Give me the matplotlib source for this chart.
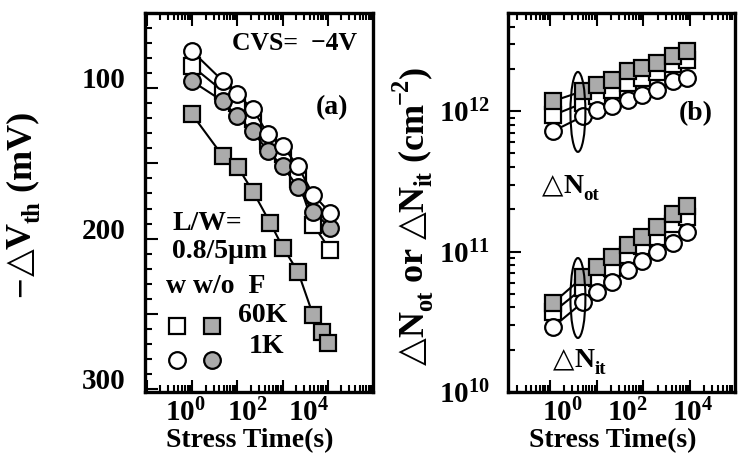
import numpy as np
import matplotlib
matplotlib.use('Agg')
import matplotlib.pyplot as plt
from matplotlib.patches import Ellipse
from matplotlib.text import Annotation
from matplotlib.ticker import (MultipleLocator, LogLocator, NullFormatter, FuncFormatter,
                               FixedLocator)

plt.rcParams['font.family'] = ['Liberation Serif', 'DejaVu Sans']
plt.rcParams['font.weight'] = 'bold'
plt.rcParams['mathtext.fontset'] = 'custom'
plt.rcParams['mathtext.rm'] = 'Liberation Serif:bold'
plt.rcParams['mathtext.it'] = 'Liberation Serif:bold'
plt.rcParams['mathtext.bf'] = 'Liberation Serif:bold'
plt.rcParams['mathtext.default'] = 'rm'

# ---------------- data: panel (a) -dVth (mV) vs stress time (s) ----------------
t_a_circ = [1.68, 16.8, 47.6, 156, 475, 1450, 4420, 13500, 47500]
vth_wF_1K = [75.3, 95.3, 104, 114, 130.7, 138.7, 152, 170.7, 182.7]      # open circles
vth_woF_1K = [95.3, 108.7, 118.7, 128.7, 142, 152, 166, 182, 192.7]     # gray circles
vth_wF_60K = [85.3, 102, 110, 120.7, 135.3, 144, 160.7, 190.7, 207.3]   # open squares
t_a_sq = [1.68, 16.8, 51.3, 156, 552, 1450, 4420, 13500, 26300, 41000]
vth_woF_60K = [117.3, 145.3, 152.7, 168.7, 189.3, 206, 222, 250.7, 262, 269.3]  # gray squares

# ---------------- data: panel (b) dNot / dNit (cm^-2) ----------------
t_b = [0.53, 4.43, 11.9, 34.5, 107, 290, 837, 2600, 7020]
not_woF_60K = [1.18e12, 1.39e12, 1.54e12, 1.67e12, 1.94e12, 2.04e12, 2.21e12, 2.49e12, 2.70e12]
not_wF_60K = [9.36e11, 1.14e12, 1.28e12, 1.42e12, 1.59e12, 1.73e12, 1.91e12, 2.18e12, 2.33e12]
not_wF_1K = [7.2e11, 9.2e11, 1.02e12, 1.09e12, 1.2e12, 1.30e12, 1.42e12, 1.64e12, 1.73e12]
nit_woF_60K = [4.3e10, 6.6e10, 7.8e10, 9.2e10, 1.12e11, 1.28e11, 1.49e11, 1.85e11, 2.1e11]
nit_wF_60K = [3.7e10, 5.5e10, 6.5e10, 7.7e10, 9.5e10, 1.09e11, 1.26e11, 1.56e11, 1.76e11]
nit_wF_1K = [2.9e10, 4.37e10, 5.15e10, 6.08e10, 7.4e10, 8.5e10, 1.0e11, 1.16e11, 1.37e11]

x_tick_labels = [r'$10^{0}$', r'$10^{2}$', r'$10^{4}$']
x_tick_vals = [1, 1e2, 1e4]

GRAY = '#ababab'
FS = 20
TFS = 21
TRI = dict(family='DejaVu Sans', weight='normal')

fig = plt.figure(figsize=(7.39, 4.62), dpi=100)
axA = fig.add_axes([145/739, 70/462, 228/739, 379/462])
axB = fig.add_axes([508/739, 70/462, 227/739, 379/462])


def chain(parts, x0, y0, fs, rotation=0):
    """Write a run of text pieces (normal / sub / sup) starting at baseline (x0, y0) in figure pixels."""
    prev = None
    for part in parts:
        s, kind = part[0], part[1]
        extra = part[2] if len(part) > 2 else {}
        size = fs if kind == 'n' else fs * 0.68
        shift = {'n': 0.0, 'sub': -0.24, 'sup': 0.42}[kind] * fs * 100 / 72
        if rotation == 0:
            xy = (x0, y0 + shift) if prev is None else (1, y0 + shift)
            xyc = 'figure pixels' if prev is None else (prev, 'figure pixels')
        else:
            xy = (x0 - shift, y0) if prev is None else (x0 - shift, 1)
            xyc = 'figure pixels' if prev is None else ('figure pixels', prev)
        kw = dict(fontsize=size, weight='bold')
        kw.update(extra)
        a = Annotation(s, xy=xy, xycoords=xyc, ha='left', va='baseline',
                       rotation=rotation, rotation_mode='anchor', **kw)
        fig.add_artist(a)
        prev = a


def style(ax, mark0, mark_step):
    """mark0 / mark_step: log10 position of the first long tick mark and spacing of the
    long tick marks drawn on the original figure's time axis."""
    for s in ax.spines.values():
        s.set_linewidth(2.4)
    ax.set_xscale('log')
    majors = [mark0 + k * mark_step for k in range(-1, 5)]
    minors = [m + np.log10(j) * mark_step for m in majors for j in range(2, 10)]
    ax.xaxis.set_major_locator(FixedLocator([10 ** v for v in majors]))
    ax.xaxis.set_minor_locator(FixedLocator([10 ** v for v in minors]))
    ax.xaxis.set_major_formatter(NullFormatter())
    ax.xaxis.set_minor_formatter(NullFormatter())
    ax.tick_params(which='both', direction='in', top=True, right=False, width=1.5,
                   labelsize=TFS)
    ax.tick_params(which='major', length=9)
    ax.tick_params(which='minor', length=5)
    sec = ax.secondary_xaxis('bottom')
    sec.set_xticks(x_tick_vals, labels=x_tick_labels)
    sec.xaxis.set_minor_locator(FixedLocator([]))
    sec.tick_params(length=0, pad=5, labelsize=TFS)
    for sp in sec.spines.values():
        sp.set_visible(False)
    ax.set_xlabel('Stress Time(s)', fontsize=FS, fontweight='bold')
    ax.xaxis.set_label_coords(0.46, -0.095)

mk = dict(ms=12, mew=1.6, mec='black', color='black', lw=1.5)
mks = {**mk, 'ms': 11}

# ---------------- panel (a) ----------------
axA.set_xlim(10**-1.29, 10**6.065)
style(axA, 0.226, 1.461)
axA.plot(t_a_circ, vth_wF_60K, marker='s', mfc='white', **mks, zorder=2)
axA.plot(t_a_sq, vth_woF_60K, marker='s', mfc=GRAY, **mks, zorder=2)
axA.plot(t_a_circ, vth_woF_1K, marker='o', mfc=GRAY, **mk, zorder=3)
axA.plot(t_a_circ, vth_wF_1K, marker='o', mfc='white', **mk, zorder=4)
axA.set_xlim(10**-1.29, 10**6.065)
axA.set_ylim(302, 50)
axA.yaxis.set_major_locator(MultipleLocator(50))
axA.yaxis.set_minor_locator(MultipleLocator(10))
axA.yaxis.set_major_formatter(FuncFormatter(lambda v, p: str(int(v)) if int(v) % 100 == 0 else ''))
axA.tick_params(axis='y', pad=14)

axA.text(0.93, 0.92, 'CVS=  \u22124V', transform=axA.transAxes, ha='right', va='center', fontsize=18.5)
axA.text(0.89, 0.75, '(a)', transform=axA.transAxes, ha='right', va='center', fontsize=FS)
axA.text(0.12, 0.445, 'L/W=', transform=axA.transAxes, ha='left', va='center', fontsize=FS)
axA.text(0.12, 0.37, '0.8/5\u03bcm', transform=axA.transAxes, ha='left', va='center', fontsize=FS)
axA.text(0.09, 0.278, 'w w/o  F', transform=axA.transAxes, ha='left', va='center', fontsize=FS)
axA.text(0.518, 0.203, '60K', transform=axA.transAxes, ha='center', va='center', fontsize=FS)
axA.text(0.531, 0.119, '1K', transform=axA.transAxes, ha='center', va='center', fontsize=FS)

# key markers: columns w / w/o, rows 60K / 1K
h1, = axA.plot([], [], marker='s', mfc='white', ls='none', ms=11, mew=1.6, mec='black')
h2, = axA.plot([], [], marker='o', mfc='white', ls='none', ms=12, mew=1.6, mec='black')
h3, = axA.plot([], [], marker='s', mfc=GRAY, ls='none', ms=11, mew=1.6, mec='black')
h4, = axA.plot([], [], marker='o', mfc=GRAY, ls='none', ms=12, mew=1.6, mec='black')
axA.legend([h1, h2, h3, h4], ['', '', '', ''], ncol=2, frameon=False,
           loc='lower left', bbox_to_anchor=(0.092, 0.042), handlelength=0.8,
           handletextpad=0.35, columnspacing=0.1, labelspacing=0.31, borderpad=0,
           borderaxespad=0, prop={'size': FS, 'weight': 'bold'})

# y label of panel (a): -△V_th (mV)
chain([('\u2212', 'n'), ('△', 'n', TRI), ('V', 'n'), ('th', 'sub'), (' (mV)', 'n')],
      31, 165, 26, rotation=90)

# ---------------- panel (b) ----------------
axB.set_xlim(10**-1.66, 10**5.32)
style(axB, -0.369, 1.437)
axB.set_yscale('log')
for a, b, c in [(not_wF_60K, not_woF_60K, not_wF_1K), (nit_wF_60K, nit_woF_60K, nit_wF_1K)]:
    axB.plot(t_b, a, marker='s', mfc='white', **mks, zorder=2)
    axB.plot(t_b, b, marker='s', mfc=GRAY, **mks, zorder=3)
    axB.plot(t_b, c, marker='o', mfc='white', **mk, zorder=4)
axB.set_xlim(10**-1.66, 10**5.32)
axB.set_ylim(1e10, 5e12)
axB.yaxis.set_major_locator(LogLocator(base=10, numticks=10))
axB.yaxis.set_minor_locator(LogLocator(base=10, subs=np.arange(2, 10), numticks=10))
axB.yaxis.set_minor_formatter(NullFormatter())
axB.yaxis.set_major_formatter(FuncFormatter(lambda v, p: r'$10^{%d}$' % round(np.log10(v))))
axB.tick_params(axis='y', pad=13)
axB.text(0.90, 0.735, '(b)', transform=axB.transAxes, ha='right', va='center', fontsize=FS)
for yc in (0.739, 0.248):
    axB.add_patch(Ellipse((0.308, yc), 0.066, 0.211, transform=axB.transAxes,
                          fill=False, lw=1.5, ec='black', zorder=6))

# y label of panel (b): △N_ot or △N_it (cm^-2)
chain([('△', 'n', TRI), ('N', 'n'), ('ot', 'sub'), (' or ', 'n'), ('△', 'n', TRI), ('N', 'n'),
       ('it', 'sub'), (' (cm', 'n'), ('\u22122', 'sup'), (')', 'n')],
      423, 97, 26, rotation=90)
# annotations inside panel (b)
chain([('△', 'n', TRI), ('N', 'n'), ('ot', 'sub')], 542, 462 - 193, FS)
chain([('△', 'n', TRI), ('N', 'n'), ('it', 'sub')], 553, 462 - 367, FS)

fig.canvas.draw()
for lab in axA.get_yticklabels():
    lab.set_verticalalignment('baseline')

fig.savefig('out.png', dpi=100)
